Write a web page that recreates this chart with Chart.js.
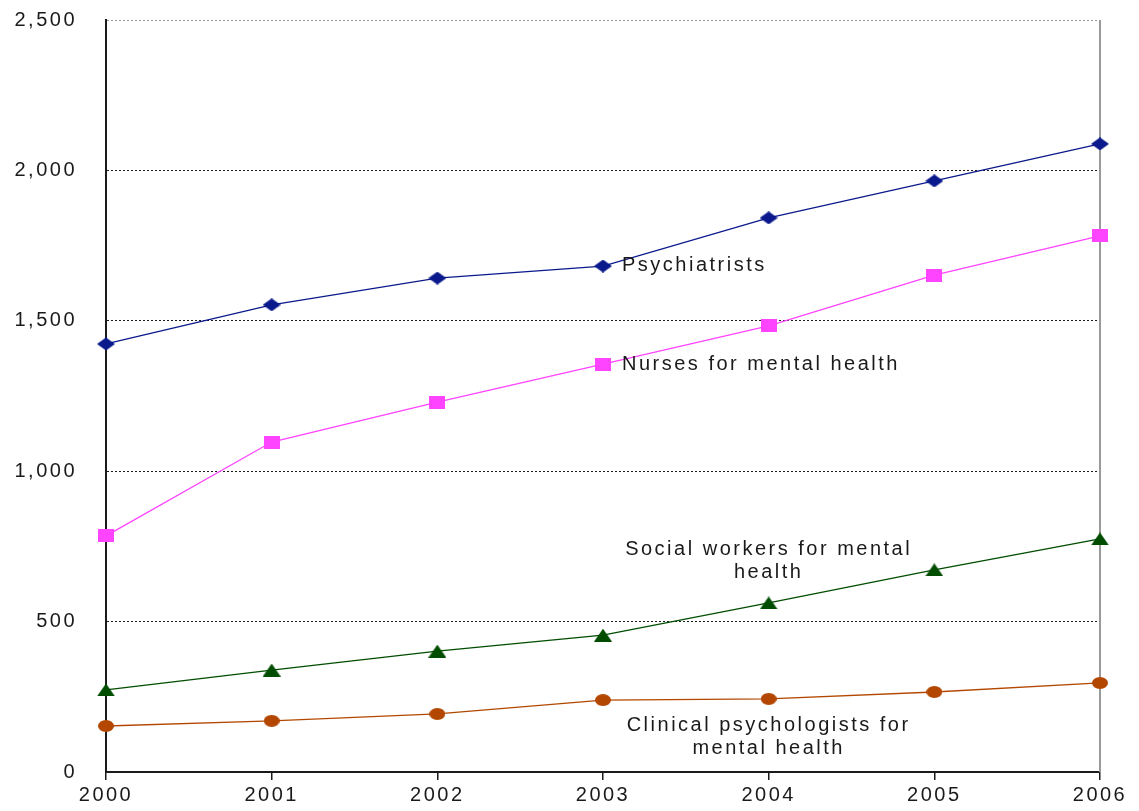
<!DOCTYPE html>
<html>
<head>
<meta charset="utf-8">
<script src="https://cdn.jsdelivr.net/npm/chart.js@4"></script>
<style>
  html, body { margin: 0; padding: 0; background: #fff; }
  #wrap { width: 1139px; height: 811px; }
</style>
</head>
<body>
<div id="wrap"><canvas id="chart" width="1139" height="811"></canvas></div>
<script>
// values
const years = ['2000', '2001', '2002', '2003', '2004', '2005', '2006'];
const psychiatrists = [1423, 1553, 1642, 1682, 1842, 1965, 2088];
const nurses = [785, 1097, 1230, 1356, 1483, 1652, 1782];
const socialWorkers = [273, 339, 402, 455, 562, 672, 775];
const psychologists = [153, 170, 193, 239, 243, 266, 296];
const yTicks = [0, 500, 1000, 1500, 2000, 2500];

const FONT = '"Liberation Sans", Arial, sans-serif';
const TEXT = '#1a1a1a';
const SPACING = '2.5px';

// small canvases used as point markers (the original markers are slightly wide)
function marker(shape, color, w, h) {
  const c = document.createElement('canvas');
  c.width = w; c.height = h;
  const g = c.getContext('2d');
  g.fillStyle = color;
  g.beginPath();
  if (shape === 'diamond') {
    g.moveTo(w / 2, 0); g.lineTo(w, h / 2); g.lineTo(w / 2, h); g.lineTo(0, h / 2);
  } else if (shape === 'square') {
    g.rect(0, 0, w, h);
  } else if (shape === 'triangle') {
    g.moveTo(w / 2, 0); g.lineTo(w, h); g.lineTo(0, h);
  } else {
    g.ellipse(w / 2, h / 2, w / 2, h / 2, 0, 0, Math.PI * 2);
  }
  g.closePath();
  g.fill();
  return c;
}

// labels written next to the lines
const notes = [
  { lines: ['Psychiatrists'], x: 3, y: 1685, dx: 19, align: 'left' },
  { lines: ['Nurses for mental health'], x: 3, y: 1356, dx: 19, align: 'left' },
  { lines: ['Social workers for mental', 'health'], x: 4, y: 741, dx: 0, align: 'center' },
  { lines: ['Clinical psychologists for', 'mental health'], x: 4, y: 156, dx: 0, align: 'center' }
];

const spacing = {
  id: 'spacing',
  beforeDraw(chart) { chart.ctx.letterSpacing = SPACING; }
};

const rightEdge = {
  id: 'rightEdge',
  beforeDatasetsDraw(chart) {
    const { ctx, chartArea } = chart;
    ctx.save();
    ctx.strokeStyle = '#9a9a9a';
    ctx.lineWidth = 2;
    ctx.beginPath();
    ctx.moveTo(chartArea.right, chartArea.top);
    ctx.lineTo(chartArea.right, chartArea.bottom);
    ctx.stroke();
    ctx.restore();
  }
};

const noteLabels = {
  id: 'noteLabels',
  afterDatasetsDraw(chart) {
    const { ctx, scales } = chart;
    ctx.save();
    ctx.letterSpacing = SPACING;
    ctx.font = '20px ' + FONT;
    ctx.fillStyle = TEXT;
    ctx.textBaseline = 'middle';
    notes.forEach(n => {
      const x = scales.x.getPixelForValue(n.x) + n.dx;
      const y = scales.y.getPixelForValue(n.y);
      ctx.textAlign = n.align;
      n.lines.forEach((t, i) => ctx.fillText(t, x, y + i * 23));
    });
    ctx.restore();
  }
};

function series(label, data, color, point) {
  return {
    label: label,
    data: data,
    borderColor: color,
    backgroundColor: color,
    borderWidth: 1.3,
    pointStyle: point,
    pointRadius: 10,
    pointHoverRadius: 10,
    tension: 0,
    clip: false
  };
}

new Chart(document.getElementById('chart'), {
  type: 'line',
  data: {
    labels: years,
    datasets: [
      series('Psychiatrists', psychiatrists, '#0a1a8c', marker('diamond', '#0a1a8c', 18, 13)),
      series('Nurses for mental health', nurses, '#ff44ff', marker('square', '#ff44ff', 16, 13)),
      series('Social workers for mental health', socialWorkers, '#004d00', marker('triangle', '#004d00', 18, 13)),
      series('Clinical psychologists for mental health', psychologists, '#b34700', marker('circle', '#b34700', 16, 12))
    ]
  },
  options: {
    responsive: false,
    animation: false,
    layout: { padding: { top: 20, right: 39, left: 0, bottom: 0 } },
    plugins: {
      legend: { display: false },
      tooltip: { enabled: false }
    },
    scales: {
      x: {
        offset: false,
        grid: { drawOnChartArea: false, drawTicks: true, tickLength: 8, color: TEXT, lineWidth: 1.5 },
        border: { color: TEXT, width: 2 },
        ticks: { color: TEXT, font: { family: FONT, size: 20 }, padding: 3, maxRotation: 0, autoSkip: false },
        afterFit(s) { s.height = 39; s.paddingTop = 0; s.paddingBottom = 0; }
      },
      y: {
        min: 0,
        max: 2500,
        afterBuildTicks(s) { s.ticks = yTicks.map(v => ({ value: v })); },
        grid: {
          drawTicks: false,
          lineWidth: 1,
          color: c => c.tick.value === 0 ? 'rgba(0,0,0,0)' : (c.tick.value === 2500 ? '#9a9a9a' : TEXT)
        },
        border: { color: TEXT, width: 2, dash: [2, 2] },
        ticks: {
          color: TEXT,
          font: { family: FONT, size: 20 },
          padding: 29,
          callback: v => v.toLocaleString('en-US')
        },
        afterFit(s) { s.width = 106; s.paddingTop = 0; s.paddingBottom = 0; }
      }
    }
  },
  plugins: [spacing, rightEdge, noteLabels]
});
</script>
</body>
</html>
